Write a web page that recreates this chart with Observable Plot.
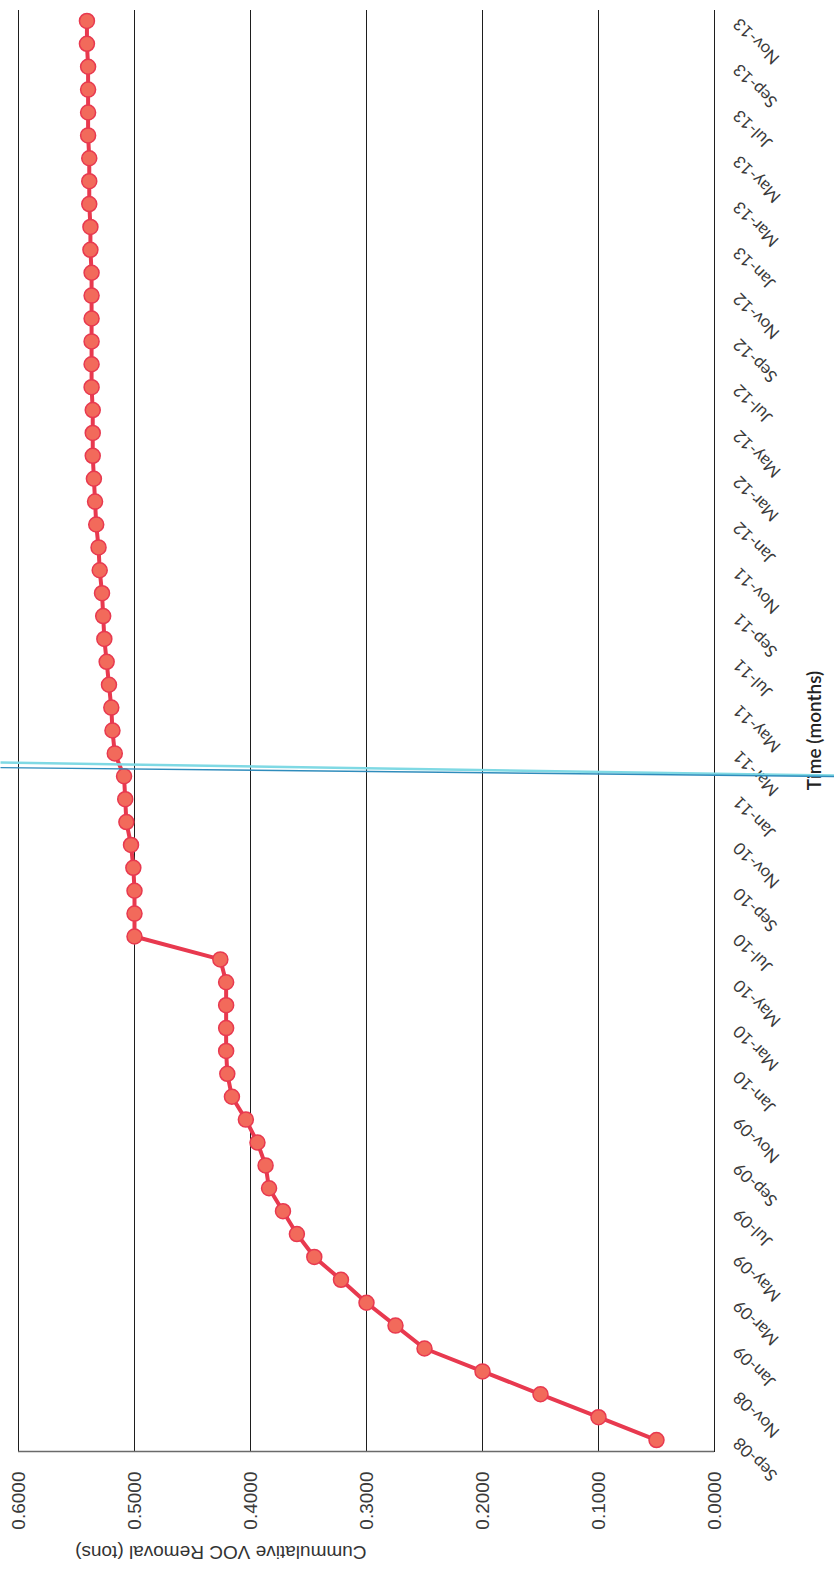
<!DOCTYPE html>
<html><head><meta charset="utf-8">
<script src="https://cdn.jsdelivr.net/npm/d3@7"></script>
<script src="https://cdn.jsdelivr.net/npm/@observablehq/plot@0.6"></script>
<style>
html,body{margin:0;padding:0;background:#fff;overflow:hidden;}
#page{position:relative;width:834px;height:1575px;overflow:hidden;background:#fff;}
#page svg{position:absolute;left:0;top:0;width:1575px !important;height:834px !important;max-width:none !important;transform-origin:0 0;transform:translate(0px,1575px) rotate(-90deg);}
</style></head><body><div id="page"></div>
<script>
// Months Sep-08 .. Nov-13 (monthly readings)
const months = d3.utcMonths(new Date(Date.UTC(2008, 8, 1)), new Date(Date.UTC(2013, 11, 1)));
const monthLabels = months.map(d3.utcFormat("%b-%y"));

// Cumulative VOC removal (tons), one per month
const removal = [
  0.050, 0.100, 0.150, 0.200, 0.250, 0.275, 0.300, 0.322, 0.345, 0.360,
  0.372, 0.384, 0.387, 0.394, 0.404, 0.416, 0.420, 0.421, 0.421, 0.421,
  0.421, 0.426, 0.500, 0.500, 0.500, 0.501, 0.503, 0.507, 0.508, 0.509,
  0.517, 0.519, 0.520, 0.522, 0.524, 0.526, 0.527, 0.528, 0.530, 0.531,
  0.533, 0.534, 0.535, 0.536, 0.536, 0.536, 0.537, 0.537, 0.537, 0.537,
  0.537, 0.537, 0.538, 0.538, 0.539, 0.539, 0.539, 0.540, 0.540, 0.540,
  0.540, 0.541, 0.541
];

const valueTicks = [0, 0.1, 0.2, 0.3, 0.4, 0.5, 0.6];
const timeTickIdx = d3.range(0, monthLabels.length, 2);

// cyan scanner/highlighter lines crossing the page near Feb/Mar-11
const scanLines = [
  {x1: 29.60, y1: 0.6155, x2: 29.03, y2: -0.1034, color: "#7fd9e4", w: 2.5},
  {x1: 29.38, y1: 0.6155, x2: 28.99, y2: -0.1034, color: "#2f8cbc", w: 1.4}
];

const data = removal.map((v, i) => ({i, label: monthLabels[i], v}));

const chart = Plot.plot({
  width: 1575, height: 834,
  marginLeft: 123, marginRight: 10, marginTop: 18, marginBottom: 120,
  x: {domain: [-0.5, monthLabels.length - 0.5]},
  y: {domain: [0, 0.6]},
  style: {background: "white", fontFamily: "'Liberation Sans', Arial, sans-serif"},
  marks: [
    Plot.gridY(valueTicks, {stroke: "#1e1e1e", strokeOpacity: 1, strokeWidth: 1}),
    Plot.ruleX([-0.5], {stroke: "#6a6a6a", strokeWidth: 1.5}),
    Plot.axisY(valueTicks, {tickSize: 0, tickPadding: 20, tickFormat: d3.format(".4f"),
      fontSize: 19, fill: "#3a3a3a", label: null}),
    Plot.axisX(timeTickIdx, {tickSize: 0, tickPadding: 22, tickRotate: -45,
      tickFormat: i => monthLabels[i], fontSize: 17, fontFamily: "Lato, 'Open Sans', sans-serif",
      fill: "#3a3a3a", label: null}),
    Plot.text(["Cummulative VOC Removal (tons)"], {text: d => d, frameAnchor: "left", rotate: -90, dx: -101,
      fontSize: 19, fill: "#333"}),
    Plot.text(["Time (months)"], {text: d => d, frameAnchor: "bottom", dy: 106,
      fontSize: 19, fontWeight: 600, fontFamily: "Lato, 'Open Sans', sans-serif", fill: "#222"}),
    Plot.line(data, {x: "i", y: "v", stroke: "#e8394f", strokeWidth: 4}),
    Plot.dot(data, {x: "i", y: "v", r: 7.5, fill: "#f26a5b", stroke: "#e8394f", strokeWidth: 1.5}),
    Plot.link(scanLines, {x1: "x1", y1: "y1", x2: "x2", y2: "y2", stroke: "color", strokeWidth: "w"})
  ]
});
document.getElementById("page").appendChild(chart);
</script>
</body></html>
